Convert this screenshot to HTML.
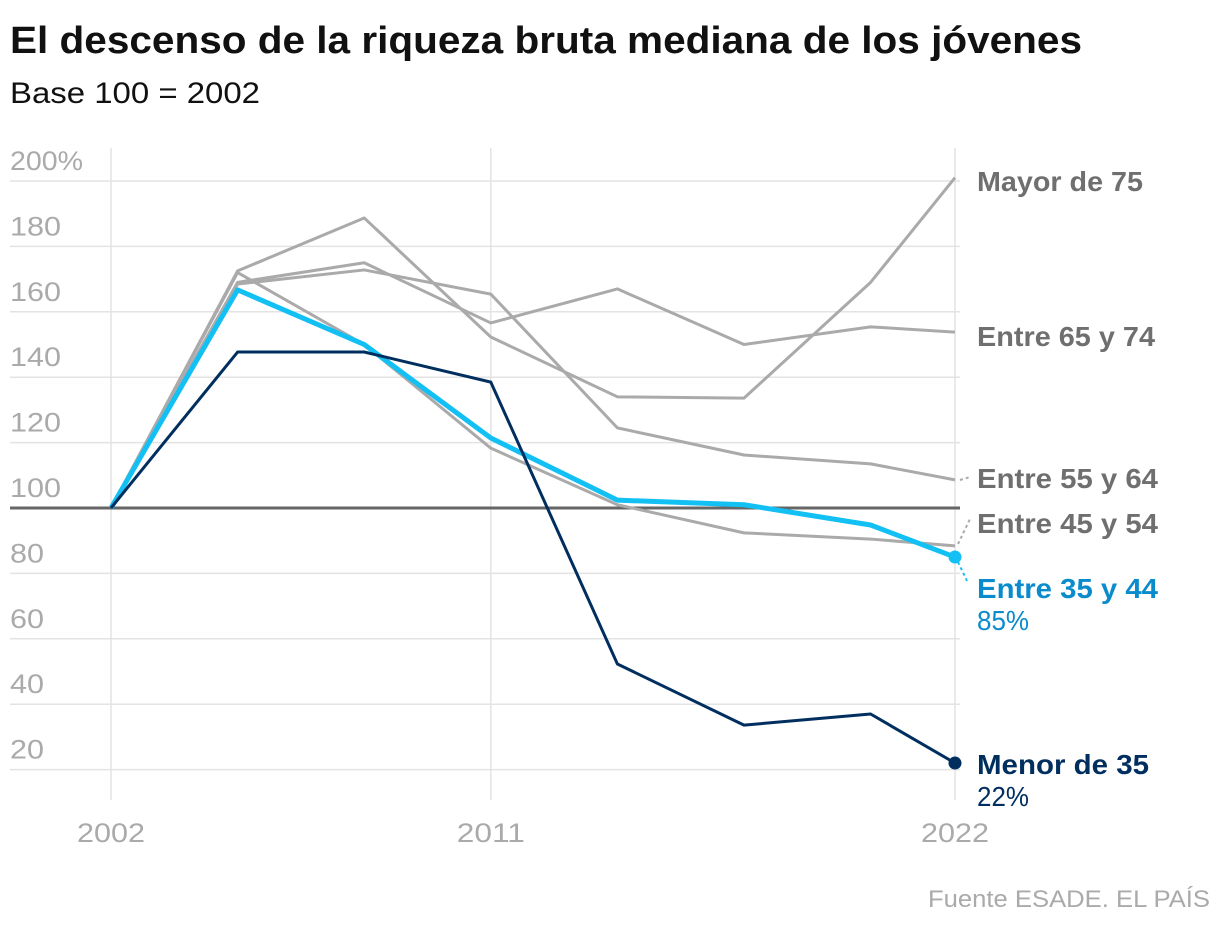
<!DOCTYPE html>
<html><head><meta charset="utf-8"><style>
html,body{margin:0;padding:0;background:#fff;}
svg{display:block;font-family:"Liberation Sans",sans-serif;}
</style></head><body>
<svg id="chart" width="1220" height="928" viewBox="0 0 1220 928" xmlns="http://www.w3.org/2000/svg">
<text x="10" y="53" font-size="38" font-weight="bold" fill="#111" textLength="1072" lengthAdjust="spacingAndGlyphs" font-family="Liberation Sans, sans-serif">El descenso de la riqueza bruta mediana de los jóvenes</text>
<text x="10" y="103" font-size="30" fill="#111" textLength="250" lengthAdjust="spacingAndGlyphs" font-family="Liberation Sans, sans-serif">Base 100 = 2002</text>
<g id="grid"></g><g id="series"></g><g id="labels"></g>
<text x="1210" y="907" text-anchor="end" font-size="24" fill="#aaa" textLength="282" lengthAdjust="spacingAndGlyphs" font-family="Liberation Sans, sans-serif">Fuente ESADE. EL PAÍS</text>
</svg>
<script>
const years=[2002,2005,2008,2011,2014,2017,2020,2022];
const yTicks=[20,40,60,80,100,120,140,160,180,200];
const yTickLabels=["20","40","60","80","100","120","140","160","180","200%"];
const xTicks=[2002,2011,2022];
const mayor75=[100,172.5,188.7,152.3,134,133.6,169,201];
const entre65_74=[100,169,175,156.6,167,150,155.4,153.8];
const entre55_64=[100,168.5,172.8,165.4,124.5,116.2,113.5,108.6];
const entre45_54=[100,172,150,118.3,101,92.4,90.5,88.4];
const entre35_44=[100,166.7,150,121.4,102.4,101,94.8,85];
const menor35=[100,147.7,147.7,138.5,52.3,33.6,37,22];

const NS="http://www.w3.org/2000/svg";
const x=v=>111+(v-2002)*(844/20);
const y=v=>508-(v-100)*3.27;
function mk(tag,attrs,parent){const e=document.createElementNS(NS,tag);for(const k in attrs)e.setAttribute(k,attrs[k]);parent.appendChild(e);return e;}
const grid=document.getElementById('grid'),series=document.getElementById('series'),labels=document.getElementById('labels');
const F="Liberation Sans, sans-serif";
yTicks.forEach((t,i)=>{
  if(t!==100){const l=mk('line',{x1:10,x2:960,y1:y(t),y2:y(t),stroke:'#e3e3e3','stroke-width':1.5},grid);
  
  }
  const s=yTickLabels[i];
  const w=s.length===4?73:(s.length===3?51:34);
  const tx=mk('text',{x:10,y:y(t)-11,'font-size':27,fill:'#aaa','font-family':F,textLength:w,lengthAdjust:'spacingAndGlyphs'},grid);
  tx.textContent=s;
  
  
});
xTicks.forEach(t=>{
  const l=mk('line',{x1:x(t),x2:x(t),y1:148,y2:800,stroke:'#e3e3e3','stroke-width':1.5},grid);
  
  
  const tx=mk('text',{x:x(t)-34,y:842,'font-size':27,fill:'#aaa','font-family':F,textLength:68,lengthAdjust:'spacingAndGlyphs'},grid);
  tx.textContent=String(t);
  
  
});
const base=mk('line',{x1:10,x2:960,y1:y(100),y2:y(100),stroke:'#666','stroke-width':3},grid);


function line(vals,color,w,name){
  const p=mk('polyline',{points:vals.map((v,i)=>x(years[i])+','+y(v)).join(' '),fill:'none',stroke:color,'stroke-width':w,'stroke-linejoin':'round'},series);
  
  
}
line(mayor75,'#aaa',3,'line-mayor-75');
line(entre65_74,'#aaa',3,'line-entre-65-74');
line(entre55_64,'#aaa',3,'line-entre-55-64');
line(entre45_54,'#aaa',3,'line-entre-45-54');
line(entre35_44,'#12c0f4',5,'line-entre-35-44');
line(menor35,'#002f5f',3,'line-menor-35');
const last=years.length-1;
const d1=mk('circle',{cx:x(years[last]),cy:y(entre35_44[last]),r:6.5,fill:'#12c0f4'},series);


const d2=mk('circle',{cx:x(years[last]),cy:y(menor35[last]),r:6.5,fill:'#002f5f'},series);


function conn(x1,y1,x2,y2,c){const l=mk('line',{x1,y1,x2,y2,stroke:c,'stroke-width':2,'stroke-dasharray':'3,3'},labels);
  
  }
conn(960,480,970,477,'#aaa');
conn(958,544,970,519,'#aaa');
conn(958,562,968,583,'#12c0f4');
function lab(t,yy,c,w,len,name){const e=mk('text',{x:977,y:yy,'font-size':28,'font-weight':w,fill:c,'font-family':F,textLength:len,lengthAdjust:'spacingAndGlyphs'},labels);
  e.textContent=t;
  
  }
lab('Mayor de 75',191,'#6f6f6f','bold',166,'label-mayor-75');
lab('Entre 65 y 74',346,'#6f6f6f','bold',178,'label-entre-65-74');
lab('Entre 55 y 64',488,'#6f6f6f','bold',181,'label-entre-55-64');
lab('Entre 45 y 54',533,'#6f6f6f','bold',181,'label-entre-45-54');
lab('Entre 35 y 44',598,'#0a8ccc','bold',181,'label-entre-35-44');
lab('85%',630,'#0a8ccc','normal',52,'value-entre-35-44');
lab('Menor de 35',774,'#002f5f','bold',172,'label-menor-35');
lab('22%',806,'#002f5f','normal',52,'value-menor-35');
</script>
</body></html>
